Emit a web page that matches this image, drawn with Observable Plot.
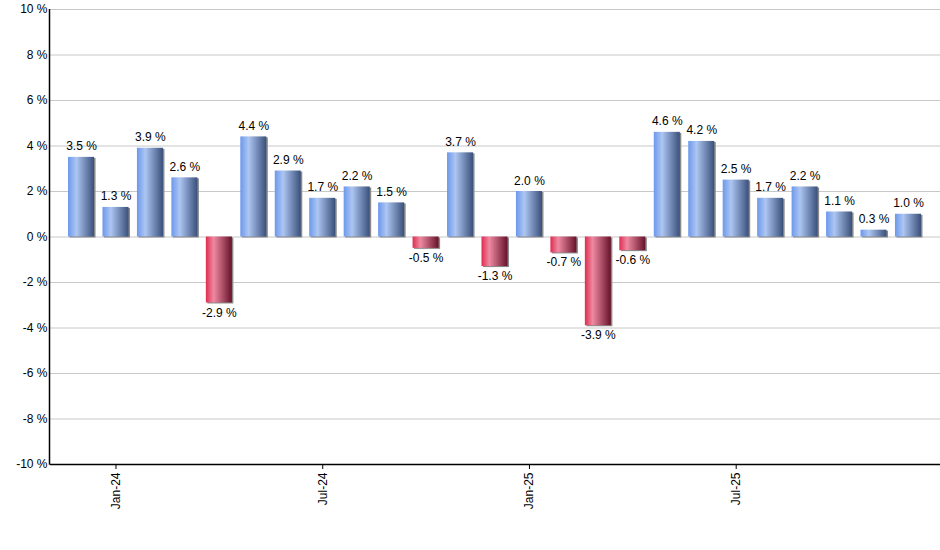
<!DOCTYPE html>
<html>
<head>
<meta charset="utf-8">
<script src="https://cdn.jsdelivr.net/npm/d3@7"></script>
<script src="https://cdn.jsdelivr.net/npm/@observablehq/plot@0.6"></script>
<style>
  html, body { margin: 0; padding: 0; background: #fff; }
  #chart svg { display: block; }
</style>
</head>
<body>
<div id="chart"></div>
<script>
const months = ["Dec-23","Jan-24","Feb-24","Mar-24","Apr-24","May-24","Jun-24","Jul-24","Aug-24","Sep-24","Oct-24","Nov-24","Dec-24",
                "Jan-25","Feb-25","Mar-25","Apr-25","May-25","Jun-25","Jul-25","Aug-25","Sep-25","Oct-25","Nov-25","Dec-25"];
const values = [3.5, 1.3, 3.9, 2.6, -2.9, 4.4, 2.9, 1.7, 2.2, 1.5, -0.5, 3.7, -1.3,
                2.0, -0.7, -3.9, -0.6, 4.6, 4.2, 2.5, 1.7, 2.2, 1.1, 0.3, 1.0];
const xTicks = ["Jan-24", "Jul-24", "Jan-25", "Jul-25"];
const yTicks = [-10, -8, -6, -4, -2, 0, 2, 4, 6, 8, 10];

const data = months.map((m, i) => ({m, v: values[i]}));
const pos = data.filter(d => d.v >= 0);
const neg = data.filter(d => d.v < 0);

const W = 940, H = 550, mL = 50, mR = 0, mT = 9, mB = 86;
const font = "'Liberation Sans', Arial, sans-serif";

const chart = Plot.plot({
  width: W, height: H,
  marginLeft: mL, marginRight: mR, marginTop: mT, marginBottom: mB,
  style: {fontFamily: font, fontSize: "12px", color: "#000", background: "#fff"},
  x: {domain: months, range: [63.8, 925.2], paddingInner: 0.245, paddingOuter: 0.1225, round: false, label: null},
  y: {domain: [-10, 10], label: null},
  marks: [
    Plot.ruleY(yTicks, {stroke: "#c8c8c8", strokeWidth: 1}),
    Plot.rectY(data, {x: "m", y: "v", fill: "#8a8a8a", dx: 1.5, dy: 1}),
    Plot.rectY(pos, {x: "m", y: "v", fill: "url(#gBlue)"}),
    Plot.rectY(neg, {x: "m", y: "v", fill: "url(#gRed)"}),
    Plot.text(pos, {x: "m", y: "v", text: d => d.v.toFixed(1) + " %", lineAnchor: "bottom", dy: -7, fill: "#000", fontSize: 12}),
    Plot.text(neg, {x: "m", y: "v", text: d => d.v.toFixed(1) + " %", lineAnchor: "top", dy: 5, fill: "#000", fontSize: 12}),
    Plot.axisY({ticks: yTicks, tickFormat: d => d + " %", tickSize: 0, tickPadding: 3, fontSize: 12}),
    Plot.axisX({ticks: xTicks, tickRotate: -90, tickSize: 5, tickPadding: 3, fontSize: 12}),
    Plot.ruleY([-10], {stroke: "#000", strokeWidth: 1.5})
  ]
});

const svg = d3.select(chart);
const defs = svg.insert("defs", ":first-child");
function grad(id, stops) {
  const g = defs.append("linearGradient").attr("id", id).attr("x1", "0%").attr("x2", "100%").attr("y1", "0%").attr("y2", "0%");
  stops.forEach(([o, c]) => g.append("stop").attr("offset", o).attr("stop-color", c));
}
grad("gBlue", [["0%", "#6c98ec"], ["32%", "#adc6f2"], ["100%", "#39507a"]]);
grad("gRed", [["0%", "#df2c50"], ["30%", "#ee8aa2"], ["100%", "#66122a"]]);

const yr = chart.scale("y").range;
svg.append("line")
  .attr("x1", mL - 0.5).attr("x2", mL - 0.5)
  .attr("y1", Math.min(...yr)).attr("y2", Math.max(...yr) + 0.75)
  .attr("stroke", "#000").attr("stroke-width", 1.5);

document.getElementById("chart").appendChild(chart);
</script>
</body>
</html>
